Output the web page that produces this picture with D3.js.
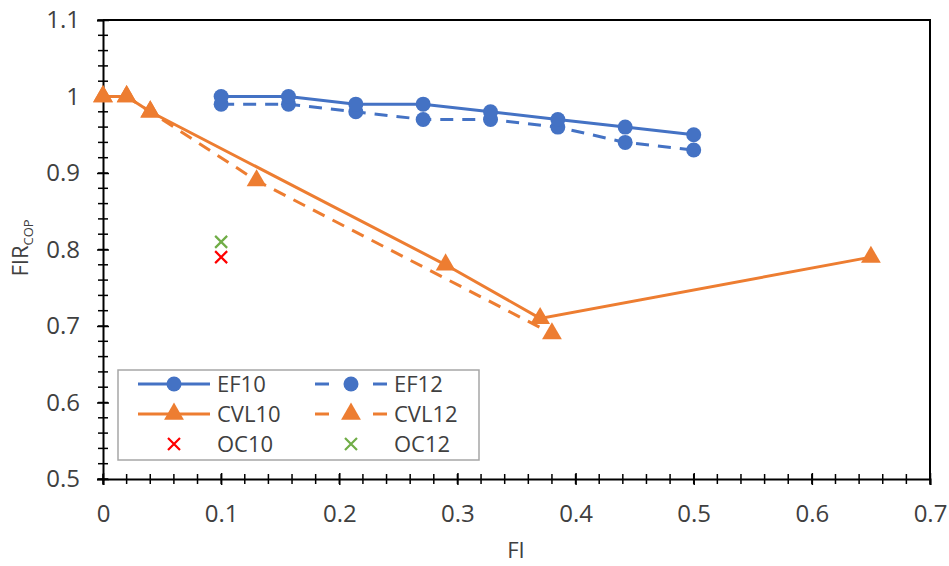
<!DOCTYPE html>
<html>
<head>
<meta charset="utf-8">
<script src="https://cdn.jsdelivr.net/npm/d3@7"></script>
<style>
  html, body { margin: 0; padding: 0; background: #fff; }
  svg { display: block; font-family: "Open Sans", "Noto Sans", sans-serif; }
</style>
</head>
<body>
<svg id="chart" width="949" height="566"></svg>
<script>
// ---- data ----
const ef10X = [0.1, 0.157, 0.214, 0.271, 0.328, 0.385, 0.442, 0.5];
const ef10Y = [1.0, 1.0, 0.99, 0.99, 0.98, 0.97, 0.96, 0.95];
const ef12X = [0.1, 0.157, 0.214, 0.271, 0.328, 0.385, 0.442, 0.5];
const ef12Y = [0.99, 0.99, 0.98, 0.97, 0.97, 0.96, 0.94, 0.93];
const cvl10X = [0, 0.02, 0.04, 0.29, 0.37, 0.65];
const cvl10Y = [1.0, 1.0, 0.98, 0.78, 0.71, 0.79];
const cvl12X = [0, 0.02, 0.04, 0.13, 0.38];
const cvl12Y = [1.0, 1.0, 0.98, 0.89, 0.69];
const oc10X = [0.1];
const oc10Y = [0.79];
const oc12X = [0.1];
const oc12Y = [0.81];
const xTicks = [0, 0.1, 0.2, 0.3, 0.4, 0.5, 0.6, 0.7];
const yTicks = [0.5, 0.6, 0.7, 0.8, 0.9, 1, 1.1];

const BLUE = "#4472C4", ORANGE = "#ED7D31", RED = "#FF0000", GREEN = "#70AD47";
const TXT = "#404040";

const svg = d3.select("#chart");
const L = 103, R = 930, T = 20, B = 479;
const x = d3.scaleLinear().domain([0, 0.7]).range([L, R]);
const y = d3.scaleLinear().domain([0.5, 1.1]).range([B, T]);

// frame (top and right)
svg.append("path")
  .attr("d", `M${L},${T}H${R}V${B}`)
  .attr("fill", "none").attr("stroke", "#000").attr("stroke-width", 2);

// minor ticks
const xMinor = d3.range(0, 0.7001, 0.02);
const yMinor = d3.range(0.5, 1.1001, 0.02);
svg.append("g").selectAll("line").data(xMinor).join("line")
  .attr("x1", d => x(d)).attr("x2", d => x(d))
  .attr("y1", B - 5).attr("y2", B + 5)
  .attr("stroke", "#000").attr("stroke-width", 1.5);
svg.append("g").selectAll("line").data(yMinor).join("line")
  .attr("y1", d => y(d)).attr("y2", d => y(d))
  .attr("x1", L - 5).attr("x2", L + 5)
  .attr("stroke", "#000").attr("stroke-width", 1.5);

// axes
const fmt = d => String(+d.toFixed(1));
const xAxis = svg.append("g").attr("transform", `translate(0,${B})`)
  .call(d3.axisBottom(x).tickValues(xTicks).tickFormat(fmt).tickSize(6).tickPadding(20));
const yAxis = svg.append("g").attr("transform", `translate(${L},0)`)
  .call(d3.axisLeft(y).tickValues(yTicks).tickFormat(fmt).tickSize(6).tickPadding(17));
[xAxis, yAxis].forEach(g => {
  g.select(".domain").attr("stroke", "#000").attr("stroke-width", 2);
  g.selectAll(".tick line").attr("stroke", "#000").attr("stroke-width", 1.5)
    .attr("transform", g === xAxis ? "translate(0,-6)" : "translate(6,0)")
    .each(function() {
      const s = d3.select(this);
      if (g === xAxis) s.attr("y2", 12); else s.attr("x2", -12);
    });
  g.selectAll(".tick text").attr("fill", TXT).attr("font-size", 24)
    .attr("font-family", "'Open Sans', sans-serif");
});

// axis titles
svg.append("text").attr("x", 516).attr("y", 558).attr("text-anchor", "middle")
  .attr("font-size", 22).attr("fill", TXT).text("FI");
const yt = svg.append("text").attr("transform", "translate(28,248) rotate(-90)")
  .attr("text-anchor", "middle").attr("font-size", 22).attr("fill", TXT);
yt.append("tspan").text("FIR");
yt.append("tspan").attr("font-size", 13).attr("dy", 5).text("COP");

// series
const zip = (xs, ys) => xs.map((v, i) => [v, ys[i]]);
const line = d3.line().x(d => x(d[0])).y(d => y(d[1]));
const tri = d3.symbol().type(d3.symbolTriangle).size(170);

function drawSeries(data, color, dashed, marker) {
  const g = svg.append("g");
  g.append("path").datum(data).attr("d", line)
    .attr("fill", "none").attr("stroke", color).attr("stroke-width", 3)
    .attr("stroke-dasharray", dashed ? "13,9" : null);
  if (marker === "circle") {
    g.selectAll("circle").data(data).join("circle")
      .attr("cx", d => x(d[0])).attr("cy", d => y(d[1])).attr("r", 7.5)
      .attr("fill", color);
  } else {
    g.selectAll("path.m").data(data).join("path").attr("class", "m")
      .attr("d", tri).attr("transform", d => `translate(${x(d[0])},${y(d[1])})`)
      .attr("fill", color);
  }
}
drawSeries(zip(cvl12X, cvl12Y), ORANGE, true, "tri");
drawSeries(zip(cvl10X, cvl10Y), ORANGE, false, "tri");
drawSeries(zip(ef12X, ef12Y), BLUE, true, "circle");
drawSeries(zip(ef10X, ef10Y), BLUE, false, "circle");

function cross(g, cx, cy, color) {
  g.append("path").attr("d", `M${cx-6},${cy-6}L${cx+6},${cy+6}M${cx-6},${cy+6}L${cx+6},${cy-6}`)
    .attr("stroke", color).attr("stroke-width", 2.2).attr("fill", "none");
}
const oc = svg.append("g");
zip(oc10X, oc10Y).forEach(d => cross(oc, x(d[0]), y(d[1]), RED));
zip(oc12X, oc12Y).forEach(d => cross(oc, x(d[0]), y(d[1]), GREEN));

// legend
const lg = svg.append("g");
lg.append("rect").attr("x", 118).attr("y", 370).attr("width", 361).attr("height", 90)
  .attr("fill", "#fff").attr("stroke", "#A6A6A6").attr("stroke-width", 1.5);
const legendItems = [
  { name: "EF10", color: BLUE, dashed: false, marker: "circle", col: 0, row: 0 },
  { name: "EF12", color: BLUE, dashed: true, marker: "circle", col: 1, row: 0 },
  { name: "CVL10", color: ORANGE, dashed: false, marker: "tri", col: 0, row: 1 },
  { name: "CVL12", color: ORANGE, dashed: true, marker: "tri", col: 1, row: 1 },
  { name: "OC10", color: RED, marker: "x", col: 0, row: 2 },
  { name: "OC12", color: GREEN, marker: "x", col: 1, row: 2 }
];
legendItems.forEach(it => {
  const x0 = it.col === 0 ? 138 : 315;
  const cy = 384 + it.row * 30;
  const g = lg.append("g");
  if (it.marker !== "x") {
    if (it.dashed) {
      g.append("line").attr("x1", x0).attr("x2", x0 + 14).attr("y1", cy).attr("y2", cy)
        .attr("stroke", it.color).attr("stroke-width", 3);
      g.append("line").attr("x1", x0 + 58).attr("x2", x0 + 72).attr("y1", cy).attr("y2", cy)
        .attr("stroke", it.color).attr("stroke-width", 3);
    } else {
      g.append("line").attr("x1", x0).attr("x2", x0 + 72).attr("y1", cy).attr("y2", cy)
        .attr("stroke", it.color).attr("stroke-width", 3);
    }
    if (it.marker === "circle") {
      g.append("circle").attr("cx", x0 + 36).attr("cy", cy).attr("r", 7.5).attr("fill", it.color);
    } else {
      g.append("path").attr("d", tri).attr("transform", `translate(${x0 + 36},${cy})`).attr("fill", it.color);
    }
  } else {
    cross(g, x0 + 36, cy, it.color);
  }
  g.append("text").attr("x", x0 + 79).attr("y", cy + 8).attr("font-size", 22)
    .attr("fill", TXT).text(it.name);
});
</script>
</body>
</html>
